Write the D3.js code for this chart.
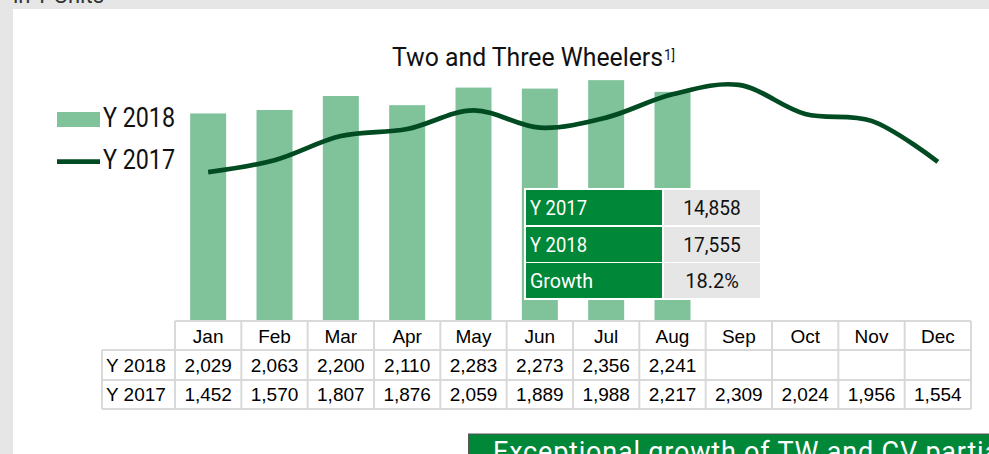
<!DOCTYPE html>
<html><head><meta charset="utf-8">
<script src="https://cdn.jsdelivr.net/npm/d3@7"></script>
<style>
html,body{margin:0;padding:0;background:#e6e6e6;overflow:hidden;}
svg{display:block;}
</style></head>
<body>
<script>
const months = ["Jan","Feb","Mar","Apr","May","Jun","Jul","Aug","Sep","Oct","Nov","Dec"];
const y2018 = [2029,2063,2200,2110,2283,2273,2356,2241];
const y2017 = [1452,1570,1807,1876,2059,1889,1988,2217,2309,2024,1956,1554];
const seriesNames = ["Y 2018","Y 2017"];
const summaryLabels = ["Y 2017","Y 2018","Growth"];
const summaryValues = ["14,858","17,555","18.2%"];
const titleText = "Two and Three Wheelers";
const titleSup = "1]";
const unitText = "in T Units";
const bannerText = "Exceptional growth of TW and CV partially offset";

const W = 989, H = 454;
const fmt = d3.format(",");
const svg = d3.select("body").append("svg").attr("width", W).attr("height", H);

// background panel
svg.append("rect").attr("x",0).attr("y",0).attr("width",W).attr("height",H).attr("fill","#e6e6e6");
svg.append("rect").attr("x",13).attr("y",9).attr("width",W-13).attr("height",H-9).attr("fill","#ffffff");
svg.append("text").attr("x",13).attr("y",3).attr("font-family","Roboto").attr("font-size",22)
  .attr("fill","#333").text(unitText);

// scales
const xCol = d3.scaleBand().domain(months).range([175, 971]).padding(0);
const xBar = d3.scaleBand().domain(months).range([175, 971]).paddingInner(0.457).paddingOuter(0.2285);
const y = d3.scaleLinear().domain([0, 2600]).range([320, 55.3]);

// bars
svg.append("g").selectAll("rect").data(y2018).join("rect")
  .attr("x",(d,i)=>xBar(months[i])).attr("width",xBar.bandwidth())
  .attr("y",d=>y(d)).attr("height",d=>y(0)-y(d)).attr("fill","#80c39b");

// line
const line = d3.line().x((d,i)=>xCol(months[i])+xCol.bandwidth()/2).y(d=>y(d)).curve(d3.curveCatmullRom.alpha(0.5));
svg.append("path").datum(y2017).attr("d",line).attr("fill","none")
  .attr("stroke","#004b22").attr("stroke-width",4.7).attr("stroke-linejoin","round");

// title
const t = svg.append("text").attr("x",392).attr("y",66).attr("font-family","Roboto").attr("fill","#111");
t.append("tspan").attr("font-size",25).attr("textLength",271).attr("lengthAdjust","spacingAndGlyphs").text(titleText);
svg.append("text").attr("x",664).attr("y",60).attr("font-family","Roboto").attr("font-size",15)
  .attr("textLength",11).attr("lengthAdjust","spacingAndGlyphs").attr("fill","#111").text(titleSup);

// legend
svg.append("rect").attr("x",57).attr("y",112).attr("width",43).attr("height",15).attr("fill","#80c39b");
svg.append("line").attr("x1",57).attr("x2",100).attr("y1",161.7).attr("y2",161.7).attr("stroke","#004b22").attr("stroke-width",4.7);
svg.selectAll("text.leg").data(seriesNames).join("text").attr("class","leg")
  .attr("x",103).attr("y",(d,i)=>i===0?127.3:169.3).attr("font-family","Roboto").attr("font-size",27)
  .attr("textLength",72).attr("lengthAdjust","spacingAndGlyphs").attr("fill","#111").text(d=>d);

// data table
const tbl = svg.append("g");
const gridC = "#d9d9d9";
tbl.append("rect").attr("x",175).attr("y",321).attr("width",796).attr("height",88).attr("fill","#fff");
tbl.append("rect").attr("x",102).attr("y",350).attr("width",73).attr("height",59).attr("fill","#fff");
[[175,971,321],[102,971,350],[102,971,380],[102,971,409]].forEach(([a,b,yy])=>{
  tbl.append("line").attr("x1",a).attr("x2",b).attr("y1",yy).attr("y2",yy).attr("stroke",gridC).attr("stroke-width",2);
});
tbl.append("line").attr("x1",102).attr("x2",102).attr("y1",350).attr("y2",409).attr("stroke",gridC).attr("stroke-width",2);
months.forEach(m=>{
  tbl.append("line").attr("x1",xCol(m)).attr("x2",xCol(m)).attr("y1",321).attr("y2",409).attr("stroke",gridC).attr("stroke-width",2);
});
tbl.append("line").attr("x1",971).attr("x2",971).attr("y1",321).attr("y2",409).attr("stroke",gridC).attr("stroke-width",2);
const tf = "Liberation Sans, Arial, sans-serif";
tbl.selectAll("text.mh").data(months).join("text").attr("class","mh")
  .attr("x",d=>xCol(d)+xCol.bandwidth()/2).attr("y",342.5).attr("text-anchor","middle")
  .attr("font-family",tf).attr("font-size",19).attr("fill","#000").text(d=>d);
tbl.selectAll("text.r18").data(y2018).join("text").attr("class","r18")
  .attr("x",(d,i)=>xCol(months[i])+xCol.bandwidth()/2).attr("y",372.3).attr("text-anchor","middle")
  .attr("font-family",tf).attr("font-size",19).attr("fill","#000").text(d=>fmt(d));
tbl.selectAll("text.r17").data(y2017).join("text").attr("class","r17")
  .attr("x",(d,i)=>xCol(months[i])+xCol.bandwidth()/2).attr("y",401).attr("text-anchor","middle")
  .attr("font-family",tf).attr("font-size",19).attr("fill","#000").text(d=>fmt(d));
tbl.selectAll("text.rl").data(seriesNames).join("text").attr("class","rl")
  .attr("x",106).attr("y",(d,i)=>i===0?372.3:401).attr("font-family",tf).attr("font-size",19).attr("fill","#000").text(d=>d);

// summary box
const sb = svg.append("g");
sb.append("rect").attr("x",524).attr("y",188).attr("width",238).attr("height",112).attr("fill","#fff");
const sTops = [190, 227, 263];
sb.selectAll("rect.sl").data(summaryLabels).join("rect").attr("class","sl")
  .attr("x",526).attr("y",(d,i)=>sTops[i]).attr("width",136).attr("height",35).attr("fill","#008738");
sb.selectAll("rect.sv").data(summaryValues).join("rect").attr("class","sv")
  .attr("x",664).attr("y",(d,i)=>sTops[i]).attr("width",96).attr("height",35).attr("fill","#e6e6e6");
sb.selectAll("text.sl").data(summaryLabels).join("text").attr("class","sl")
  .attr("x",530).attr("y",(d,i)=>sTops[i]+24.5).attr("font-family","Roboto").attr("font-size",21)
  .attr("textLength",(d,i)=>[57,57,63][i]).attr("lengthAdjust","spacingAndGlyphs").attr("fill","#fff").text(d=>d);
sb.selectAll("text.sv").data(summaryValues).join("text").attr("class","sv")
  .attr("x",712).attr("y",(d,i)=>sTops[i]+24.5).attr("text-anchor","middle").attr("font-family","Roboto").attr("font-size",21)
  .attr("textLength",(d,i)=>[57.5,57.5,53.5][i]).attr("lengthAdjust","spacingAndGlyphs").attr("fill","#111").text(d=>d);

// bottom banner
svg.append("rect").attr("x",468.5).attr("y",434).attr("width",530).attr("height",30)
  .attr("fill","#008738").attr("stroke","#555").attr("stroke-width",1);
svg.append("text").attr("x",493).attr("y",461).attr("font-family","Roboto").attr("font-size",27)
  .attr("letter-spacing",0.8).attr("fill","#fff").text(bannerText);
</script>
</body></html>
